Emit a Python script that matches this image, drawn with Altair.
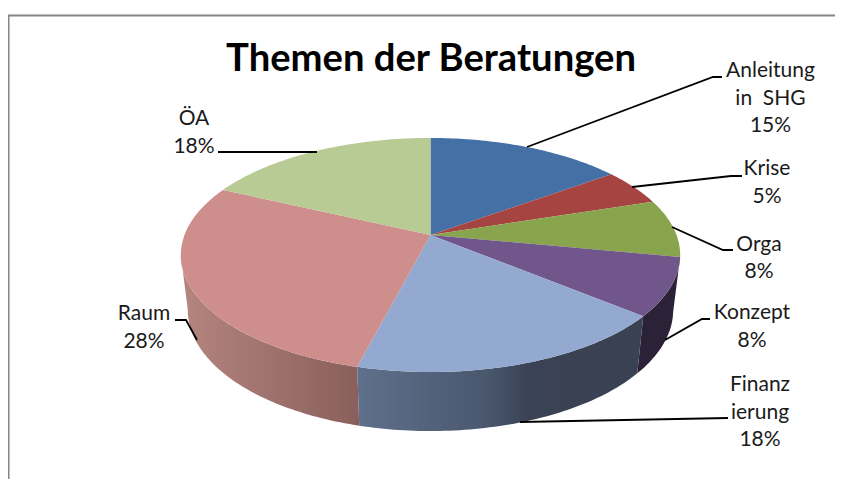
import math
import altair as alt
import pandas as pd

# ---- values ----
TITLE = "Themen der Beratungen"
labels = [["Anleitung", "in\u00a0\u00a0SHG"], ["Krise"], ["Orga"], ["Konzept"], ["Finanz", "ierung"], ["Raum"], ["ÖA"]]
shares = [15, 5, 8, 8, 18, 28, 18]

# ---- styles ----
top_colors = ["#4470a6", "#a64441", "#88a44d", "#71568c", "#93a9cf", "#ce8e8c", "#b8cb94"]
wall_stops = {
    3: [(0, "#2b2238"), (1, "#2b2238")],
    4: [(0, "#5f708c"), (0.45, "#4a586e"), (0.6, "#3a4255"), (1, "#3a4152")],
    5: [(0, "#b5857f"), (1, "#895f5c")],
}
# label anchor (centre x, first-row centre y) and leader polylines, in page pixels
label_pos = [(770.5, 71), (767, 169), (759, 244.5), (752, 313), (760, 385), (144, 314), (194, 119)]
row_step = 27.5
leaders = [
    [(527, 147), (713, 77), (722, 77)],
    [(632, 187), (731, 176), (742, 176)],
    [(672, 227), (723, 250), (733, 250)],
    [(665, 340), (702, 319), (710, 319)],
    [(520, 422), (728, 418)],
    [(197, 340), (186, 320), (175, 320)],
    [(317, 152), (218, 152)],
]

# ---- pie projection (perspective of the tilted disc) ----
CX, APEX_Y, K, A, C = 430.5, 235.0, 246.0, 113.6, 0.171
EY, RX, RY = 255.0, 250.0, 117.0
BY, BRX, BRY = 310.0, 243.0, 121.0


def rim(deg):
    th = math.radians(deg)
    d = 1 + C * math.cos(th)
    return CX + K * math.sin(th) / d, APEX_Y - A * math.cos(th) / d


def bottom(x, y):
    return CX + (x - CX) * BRX / RX, BY + (y - EY) * BRY / RY


def span(a, b, step=1.0):
    n = max(2, int(abs(b - a) / step) + 1)
    return [a + (b - a) * i / (n - 1) for i in range(n)]


edges = [0.0]
for s in shares:
    edges.append(edges[-1] + s * 3.6)

tops, walls = [], []
VIS_A, VIS_B = 99.85, 260.15
for i, (a, b) in enumerate(zip(edges[:-1], edges[1:])):
    pts = [(CX, APEX_Y)] + [rim(t) for t in span(a, b)]
    for k, (x, y) in enumerate(pts):
        tops.append(dict(slice=i, k=k, x=x, y=y))
    lo, hi = max(a, VIS_A), min(b, VIS_B)
    if hi > lo and i in wall_stops:
        upper = [rim(t) for t in span(lo, hi)]
        lower = [bottom(x, y) for x, y in upper][::-1]
        for k, (x, y) in enumerate(upper + lower):
            walls.append(dict(slice=i, k=k, x=x, y=y))

tops = pd.DataFrame(tops)
walls = pd.DataFrame(walls)

text_rows = []
for name, pct, (lx, ly) in zip(labels, shares, label_pos):
    for r, line in enumerate(name + [f"{pct}%"]):
        text_rows.append(dict(x=lx, y=ly + r * row_step, text=line))
text_rows = pd.DataFrame(text_rows)

leader_rows = pd.DataFrame(
    [dict(id=i, k=k, x=p[0], y=p[1]) for i, l in enumerate(leaders) for k, p in enumerate(l)]
)
W, H = 827, 471
frame_rows = pd.DataFrame(
    [dict(id=0, k=0, x=8.5, y=8 + H), dict(id=0, k=1, x=8.5, y=15.5), dict(id=0, k=2, x=8 + W, y=15.5)]
)

X = alt.X("x:Q", scale=alt.Scale(domain=[8, 8 + W], nice=False, zero=False), axis=None)
Y = alt.Y("y:Q", scale=alt.Scale(domain=[8 + H, 8], nice=False, zero=False), axis=None)


def polygon(df, fill):
    return alt.Chart(df).mark_line(fill=fill, stroke=None, interpolate="linear-closed", clip=False).encode(
        x=X, y=Y, order="k:Q"
    )


layers = [
    alt.Chart(frame_rows).mark_line(color="#868686", strokeWidth=2, strokeCap="square").encode(x=X, y=Y, order="k:Q")
]
for i, stops in wall_stops.items():
    grad = alt.Gradient(
        gradient="linear", x1=0, x2=1, y1=0, y2=0,
        stops=[alt.GradientStop(offset=o, color=c) for o, c in stops],
    )
    layers.append(polygon(walls[walls.slice == i], grad))
for i, col in enumerate(top_colors):
    layers.append(polygon(tops[tops.slice == i], col))
layers.append(
    alt.Chart(leader_rows).mark_line(color="#000000", strokeWidth=1.8).encode(x=X, y=Y, detail="id:N", order="k:Q")
)
layers.append(
    alt.Chart(text_rows).mark_text(font="Lato", fontSize=21, color="#1a1a1a", baseline="middle", align="center").encode(
        x=X, y=Y, text="text:N"
    )
)
layers.append(
    alt.Chart(pd.DataFrame([dict(x=431, y=60, text=TITLE)])).mark_text(
        font="Lato", fontSize=38.2, fontWeight="bold", color="#000000", baseline="middle", align="center"
    ).encode(x=X, y=Y, text="text:N")
)

chart = alt.layer(*layers).properties(
    width=W, height=H, padding=0, background="#ffffff", autosize=alt.AutoSizeParams(type="none")
).configure_view(stroke=None)

chart.save("out.html", embed_options={"renderer": "svg", "actions": False})
